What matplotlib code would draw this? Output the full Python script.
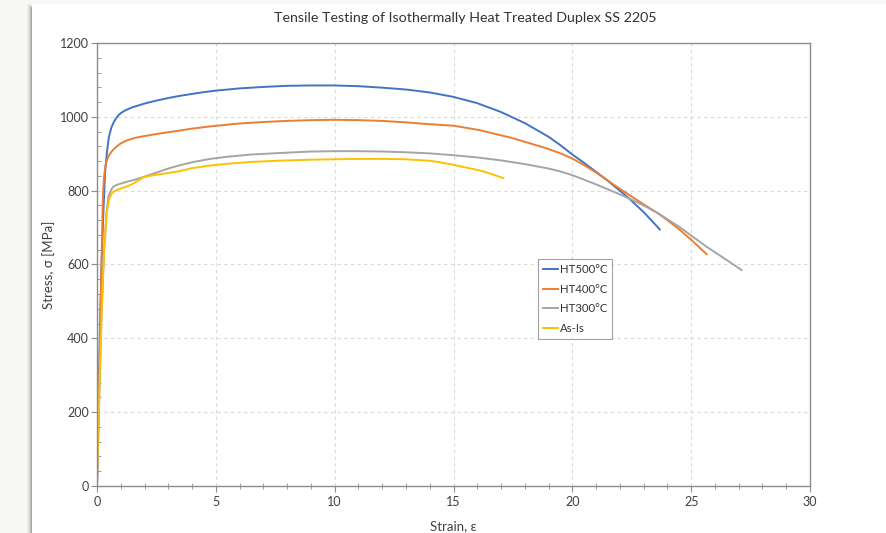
import matplotlib.pyplot as plt
from matplotlib.patches import Rectangle
from matplotlib.ticker import MultipleLocator

plt.rcParams['font.family'] = ['Lato', 'DejaVu Sans']

# strain [%] / stress [MPa]
ht500_strain = [0, 0.05, 0.12, 0.2, 0.28, 0.34, 0.42, 0.5, 0.6, 0.7, 0.8, 0.9, 1.0, 1.2, 1.5,
                2.0, 2.5, 3.0, 3.5, 4.0, 4.5, 5.0, 6.0, 7.0, 8.0, 9.0, 10.0, 11.0, 12.0,
                13.0, 14.0, 15.0, 16.0, 17.0, 18.0, 19.0, 19.5, 20.0, 20.5, 21.0, 21.45,
                22.0, 22.35, 23.0, 23.68]
ht500_stress = [0, 180, 420, 620, 760, 848, 905, 945, 970, 985, 996, 1004, 1010, 1018, 1026,
                1036, 1044, 1051, 1057, 1062, 1067, 1071, 1077, 1081, 1084, 1085, 1085, 1083, 1079,
                1074, 1066, 1054, 1037, 1013, 983, 946, 923, 898, 875, 851, 829,
                800, 781, 742, 695]

ht400_strain = [0, 0.05, 0.1, 0.15, 0.2, 0.25, 0.3, 0.35, 0.4, 0.5, 0.6, 0.7, 0.85, 1.0, 1.25,
                1.6, 2.0, 2.65, 3.5, 4.0, 4.75, 6.0, 7.0, 8.0, 9.0, 10.0, 11.0, 12.0, 13.0,
                14.0, 15.0, 16.1, 17.5, 18.9, 19.5, 20.0, 20.5, 21.0, 21.45, 22.0, 22.5, 23.0,
                23.6, 24.0, 24.5, 25.0, 25.65]
ht400_stress = [0, 150, 300, 480, 640, 790, 840, 865, 880, 895, 905, 912, 921, 928, 936,
                943, 948, 955, 963, 968, 974, 982, 986, 989, 991, 992, 991, 989, 985,
                980, 976, 964, 942, 915, 901, 887, 869, 849, 829, 805, 784, 763,
                739, 720, 695, 667, 628]

ht300_strain = [0, 0.05, 0.12, 0.2, 0.3, 0.4, 0.48, 0.6, 0.69, 0.85, 1.0, 1.25, 1.6, 2.0,
                2.5, 3.0, 3.5, 4.0, 4.75, 5.5, 6.5, 8.0, 9.0, 10.0, 11.0, 12.0, 13.0, 14.0,
                15.0, 16.0, 17.0, 18.0, 19.0, 19.5, 20.0, 21.0, 22.0, 22.35, 23.0, 23.6,
                24.5, 25.65, 26.5, 27.12]
ht300_stress = [0, 120, 300, 480, 640, 740, 784, 803, 811, 816, 819, 824, 830, 838,
                849, 860, 869, 877, 886, 892, 898, 903, 906, 907, 907, 906, 904, 901,
                896, 890, 882, 872, 860, 852, 842, 817, 790, 780, 760, 739,
                702, 648, 612, 585]

asis_strain = [0, 0.05, 0.12, 0.2, 0.3, 0.41, 0.5, 0.6, 0.69, 0.85, 1.0, 1.2, 1.39, 1.6,
               1.8, 1.95, 2.2, 2.5, 3.0, 3.5, 4.0, 4.75, 5.5, 6.5, 8.0, 9.0, 10.0, 11.0,
               12.0, 13.0, 14.0, 14.5, 15.0, 15.5, 16.1, 16.6, 17.1]
asis_stress = [25, 140, 310, 480, 640, 740, 775, 790, 797, 802, 806, 810, 815, 822,
               830, 836, 840, 843, 848, 853, 861, 868, 873, 878, 882, 884, 885, 886,
               886, 885, 881, 876, 870, 863, 855, 845, 834]

fig = plt.figure(figsize=(8.86, 5.33), dpi=100)
fig.patch.set_facecolor('#f7f7f3')

# chart panel with a soft shadow on the left
for i, a in enumerate([0.05, 0.08, 0.12, 0.18, 0.25]):
    fig.patches.append(Rectangle(((27 + i) / 886, 0), 1, (529 - i) / 533,
                                 transform=fig.transFigure, facecolor='#606060',
                                 alpha=a, edgecolor='none', zorder=-10))
fig.patches.append(Rectangle((32 / 886, 0), 1, 529 / 533, transform=fig.transFigure,
                             facecolor='white', edgecolor='none', zorder=-5))

ax = fig.add_axes([97 / 886, 47 / 533, 713 / 886, 443 / 533])
ax.set_facecolor('white')

ax.plot(ht500_strain, ht500_stress, color='#4472C4', lw=1.4, label='HT500°C')
ax.plot(ht400_strain, ht400_stress, color='#ED7D31', lw=1.4, label='HT400°C')
ax.plot(ht300_strain, ht300_stress, color='#A5A5A5', lw=1.4, label='HT300°C')
ax.plot(asis_strain, asis_stress, color='#FFC000', lw=1.4, label='As-Is')

ax.set_xlim(0, 30)
ax.set_ylim(0, 1200)
ax.xaxis.set_major_locator(MultipleLocator(5))
ax.xaxis.set_minor_locator(MultipleLocator(1))
ax.yaxis.set_major_locator(MultipleLocator(200))
ax.yaxis.set_minor_locator(MultipleLocator(40))
ax.grid(True, which='major', color='#d9d9d9', ls=(0, (3, 3)), lw=0.8)
ax.set_axisbelow(True)

for s in ax.spines.values():
    s.set_color('#8c8c8c')
    s.set_linewidth(1.0)
ax.tick_params(which='major', direction='out', length=4, color='#8c8c8c',
               labelsize=9, labelcolor='#404040')
ax.tick_params(axis='y', which='major', pad=2)
ax.tick_params(axis='x', which='major', pad=3)
ax.tick_params(axis='y', which='minor', direction='in', length=3, color='#8c8c8c')
ax.tick_params(axis='x', which='minor', direction='inout', length=4, color='#8c8c8c')
ax.tick_params(top=False, right=False, which='both')

fig.text(465 / 886, 1 - 18 / 533, 'Tensile Testing of Isothermally Heat Treated Duplex SS 2205',
         fontsize=10.3, color='#333333', ha='center', va='center')
ax.set_xlabel('Strain, ε', fontsize=9.5, color='#404040')
ax.set_ylabel('Stress, σ [MPa]', fontsize=9.5, color='#404040')
ax.xaxis.set_label_coords(0.5, -0.077)
ax.yaxis.set_label_coords(-0.059, 0.5)

leg = ax.legend(loc='upper left', bbox_to_anchor=(0.6185, 0.512), borderaxespad=0,
                fontsize=8.2, frameon=True, fancybox=False, handlelength=1.3,
                handletextpad=0.15, borderpad=0.45, labelspacing=0.75, labelcolor='#333333')
leg.get_frame().set_edgecolor('#8c8c8c')
leg.get_frame().set_linewidth(0.8)

fig.savefig('out.png', dpi=100)
